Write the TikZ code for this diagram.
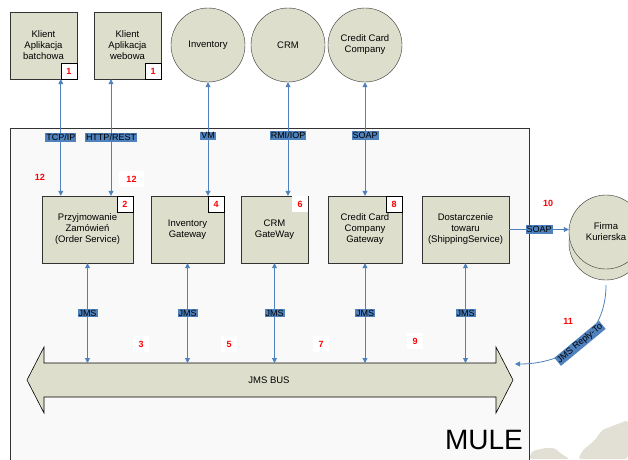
\documentclass[tikz,border=0pt]{standalone}
\usepackage{fontspec}
\setmainfont{Liberation Sans}
\usetikzlibrary{arrows.meta,positioning}

\definecolor{boxfill}{RGB}{221,223,204}
\definecolor{linkblue}{RGB}{79,129,189}
\definecolor{mulefill}{RGB}{249,249,249}
\definecolor{blobgray}{RGB}{226,224,212}

\begin{document}
\begin{tikzpicture}[x=1pt,y=-1pt,font=\fontsize{9.5}{11}\selectfont,
  >={Triangle[length=5pt,width=5pt]},
  box/.style={draw=black!80,fill=boxfill,align=center,inner sep=1pt,minimum height=67pt},
  sys/.style={draw=black!80,fill=boxfill,circle,minimum size=74pt,align=center,inner sep=0pt},
  numbox/.style={draw=black,fill=white,minimum size=16pt,inner sep=0pt,text=red,font=\fontsize{9}{9}\selectfont\bfseries},
  numplain/.style={fill=white,minimum size=16pt,inner sep=0pt,text=red,font=\fontsize{9}{9}\selectfont\bfseries},
  link/.style={<->,linkblue,line width=0.8pt},
  lbl/.style={fill=linkblue,text=black,inner sep=1pt,font=\fontsize{9}{9}\selectfont}]

\clip (0,0) rectangle (628,459);

% MULE container and background
\draw[black!80,fill=mulefill,line width=0.8pt] (10,128) rectangle (529,470);
\fill[blobgray,rounded corners=3pt] (529,459) -- (532,451) -- (545,448) -- (555,448)
  -- (560,453) -- (570,459) -- cycle;
\fill[blobgray,rounded corners=3pt] (578,459) -- (583,450) -- (595,440) -- (602,430)
  -- (615,425) -- (628,420) -- (628,459) -- cycle;
\node[font=\fontsize{28}{28}\selectfont] (mule) at (484,440) {MULE};

% JMS bus
\draw[fill=boxfill,line width=0.6pt] (27,380) -- (44,347) -- (44,363) -- (496,363) -- (496,347)
  -- (513,380) -- (496,413) -- (496,397) -- (44,397) -- (44,413) -- cycle;
\node (bus) at (269,380) {JMS BUS};
\coordinate (bustop) at (0,363);

% external systems
\node[box,minimum width=67pt] (cl1) at (43.5,45.5) {Klient\\Aplikacja\\batchowa};
\node[box,minimum width=67pt] (cl2) at (127.5,45.5) {Klient\\Aplikacja\\webowa};
\node[numbox,anchor=south east] (n1) at (cl1.south east) {1};
\node[numbox,anchor=south east] (n1b) at (cl2.south east) {1};
\node[sys] (inv) at (208,45) {Inventory};
\node[sys] (crm) at (288,45) {CRM};
\node[sys] (cc) at (365,45) {Credit Card\\Company};
\node[sys] (firmab) at (606,243) {};
\node[sys] (firma) at (606,232) {Firma\\Kurierska};

% services inside MULE
\node[box,minimum width=91pt] (ord) at (87.5,229.5) {Przyjmowanie\\Zamówień\\(Order Service)};
\node[box,minimum width=73pt] (invgw) at (187.5,229.5) {Inventory\\Gateway};
\node[box,minimum width=67pt] (crmgw) at (274.5,229.5) {CRM\\GateWay};
\node[box,minimum width=74pt] (ccgw) at (365,229.5) {Credit Card\\Company\\Gateway};
\node[box,minimum width=87pt] (ship) at (465.5,229.5) {Dostarczenie\\towaru\\(ShippingService)};
\node[numbox,anchor=north east] (n2) at (ord.north east) {2};
\node[numbox,anchor=north east] (n4) at (invgw.north east) {4};
\node[numplain,anchor=north east] (n6) at (crmgw.north east) {6};
\node[numbox,anchor=north east] (n8) at (ccgw.north east) {8};

% connectors
\draw[link] (n1.south west) -- (n1.south west |- ord.north) node[lbl,midway] {TCP/IP};
\draw[link] ([xshift=-16.5pt]cl2.south) -- ([xshift=-16.5pt]cl2.south |- ord.north)
  node[lbl,midway] {HTTP/REST};
\draw[link] (inv.south) -- (inv.south |- invgw.north) node[lbl,pos=.47] {VM};
\draw[link] (crm.south) -- (crm.south |- crmgw.north) node[lbl,pos=.47] {RMI/IOP};
\draw[link] (cc.south) -- (cc.south |- ccgw.north) node[lbl,pos=.47] {SOAP};
\draw[->,linkblue,line width=0.8pt] (ship.east) -- (ship.east -| firma.west) node[lbl,midway] {SOAP};

\foreach \gw in {ord,invgw,crmgw,ccgw,ship}{
  \draw[link] (\gw.south) -- (\gw.south |- bustop) node[lbl,midway] {JMS};
}

\coordinate (replyin) at (515,364);
\draw[->,linkblue,line width=0.8pt] ([yshift=-5pt]firmab.south) .. controls +(0,50) and +(52,0) .. (replyin)
  node[lbl,sloped,pos=.5] {JMS Reply-To};

% step numbers
\node[text=red,font=\fontsize{9}{9}\selectfont\bfseries] (s12a) at (40,177) {12};
\node[numplain,minimum width=25pt] (s12b) at (131.5,179) {12};
\node[numplain] (s3) at (141,344) {3};
\node[numplain] (s5) at (229,344) {5};
\node[numplain] (s7) at (321,344) {7};
\node[numplain] (s9) at (415,341) {9};
\node[text=red,font=\fontsize{9}{9}\selectfont\bfseries] (s10) at (548,203) {10};
\node[text=red,font=\fontsize{9}{9}\selectfont\bfseries] (s11) at (568,321) {11};

\end{tikzpicture}
\end{document}
